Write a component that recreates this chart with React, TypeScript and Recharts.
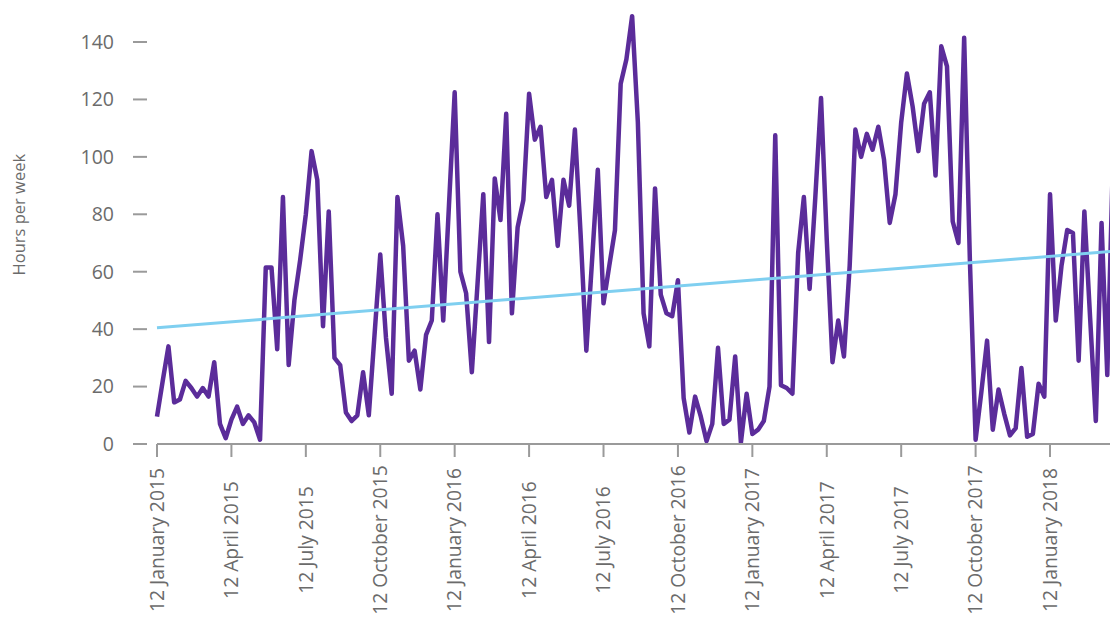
import React from "react";
import { LineChart, Line, XAxis, YAxis } from "recharts";

const tickWeeks = [0, 13, 26, 39, 52, 65, 78, 91, 104, 117, 130, 143, 156];
const tickLabels = [
  "12 January 2015", "12 April 2015", "12 July 2015", "12 October 2015",
  "12 January 2016", "12 April 2016", "12 July 2016", "12 October 2016",
  "12 January 2017", "12 April 2017", "12 July 2017", "12 October 2017",
  "12 January 2018",
];
const yTicks = [0, 20, 40, 60, 80, 100, 120, 140];

const hours = [
  9.5, 22, 34, 14.5, 15.5, 22, 19.5, 16.5, 19.5, 16.5,
  28.5, 7, 2, 8.5, 13, 7, 10, 7.5, 1.5, 61.5,
  61.5, 33, 86, 27.5, 50, 64, 80, 102, 92, 41,
  81, 30, 27.5, 11, 8, 10, 25, 10, 38, 66,
  37, 17.5, 86, 69, 29, 32.5, 19, 38, 43, 80,
  43, 83, 122.5, 60, 52.5, 25, 56, 87, 35.5, 92.5,
  78, 115, 45.5, 75.5, 85, 122, 106, 110.5, 86, 92,
  69, 92, 83, 109.5, 73, 32.5, 64, 95.5, 49, 62,
  74.5, 125.5, 134, 149, 112, 45.5, 34, 89, 52, 45.5,
  44.5, 57, 16, 4, 16.5, 9.5, 1, 7, 33.5, 7,
  8.5, 30.5, 0.5, 17.5, 3.5, 5, 8, 20, 107.5, 20.5,
  19.5, 17.5, 66.5, 86, 54, 86, 120.5, 71, 28.5, 43,
  30.5, 62, 109.5, 100, 108, 102.5, 110.5, 99, 77, 87,
  112, 129, 117.5, 102, 118.5, 122.5, 93.5, 138.5, 131.5, 77.5,
  70, 141.5, 64, 1.5, 18, 36, 5, 19, 10.5, 3,
  5.5, 26.5, 2.5, 3.5, 21, 16.5, 87, 43, 62, 74.5,
  73.5, 29, 81, 44, 8, 77, 24, 100,
];

const trendStart = 40.5;
const trendEnd = 67.1;

const rows = hours.map((h, i) => ({
  week: i,
  hours: h,
  trend: i === 0 ? trendStart : i === hours.length - 1 ? trendEnd : null,
}));

const FONT = "'Open Sans', sans-serif";
const TEXT = "#6b6b6b";
const AXIS = "#9a9a9a";

const YTick = (props: any) => {
  const { x, y, payload } = props;
  return (
    <g>
      <line x1={x - 24} x2={x - 10} y1={y} y2={y} stroke={AXIS} strokeWidth={2} />
      <text x={x - 43} y={y} dy="0.35em" textAnchor="end" fill={TEXT} fontSize={19.5} fontFamily={FONT}>
        {payload.value}
      </text>
    </g>
  );
};

const XTick = (props: any) => {
  const { x, y, payload } = props;
  const idx = tickWeeks.indexOf(payload.value);
  const label = idx >= 0 ? tickLabels[idx] : "";
  const cy = y + 96;
  return (
    <g>
      <line x1={x} x2={x} y1={y} y2={y + 13} stroke={AXIS} strokeWidth={2} />
      <text
        x={x + 6.8}
        y={cy}
        textAnchor="middle"
        transform={`rotate(-90, ${x + 6.8}, ${cy})`}
        fill={TEXT}
        fontSize={19.3}
        fontFamily={FONT}
      >
        {label}
      </text>
    </g>
  );
};

const YLabel = (props: any) => {
  const { viewBox } = props;
  const cx = viewBox.x + 17;
  const cy = viewBox.y + viewBox.height / 2 - 14;
  return (
    <text
      x={cx}
      y={cy}
      textAnchor="middle"
      transform={`rotate(-90, ${cx}, ${cy})`}
      fill={TEXT}
      fontSize={16.5}
      fontFamily={FONT}
    >
      Hours per week
    </text>
  );
};

export default function App() {
  return (
    <div
      style={{
        position: "fixed",
        top: 8,
        left: 8,
        width: 1102,
        height: 611,
        overflow: "hidden",
        background: "#fff",
      }}
    >
      <LineChart
        width={1200}
        height={611}
        data={rows}
        margin={{ top: 5.3, right: 95, left: 0, bottom: 0 }}
      >
        <XAxis
          dataKey="week"
          type="number"
          domain={[0, 167]}
          ticks={tickWeeks}
          interval={0}
          height={175}
          tickLine={false}
          tickSize={0}
          tickMargin={0}
          axisLine={{ stroke: AXIS, strokeWidth: 2 }}
          tick={<XTick />}
        />
        <YAxis
          type="number"
          domain={[0, 150]}
          ticks={yTicks}
          interval={0}
          width={149}
          axisLine={false}
          tickLine={false}
          tickSize={0}
          tickMargin={0}
          tick={<YTick />}
          label={<YLabel />}
        />
        <Line
          dataKey="hours"
          type="linear"
          stroke="#5b2c9a"
          strokeWidth={4.5}
          strokeLinejoin="round"
          dot={false}
          isAnimationActive={false}
        />
        <Line
          dataKey="trend"
          type="linear"
          stroke="#7fcff0"
          strokeWidth={3}
          dot={false}
          connectNulls
          isAnimationActive={false}
        />
      </LineChart>
    </div>
  );
}
